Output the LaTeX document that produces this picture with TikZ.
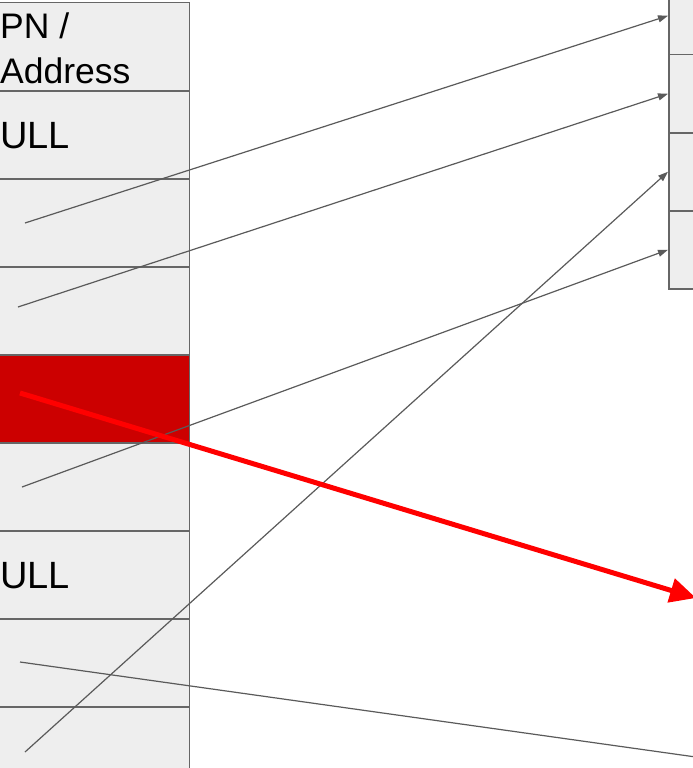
\documentclass[tikz,border=0pt]{standalone}
\usepackage{fontspec}
\setmainfont{Liberation Sans}
\usetikzlibrary{arrows.meta}

\definecolor{cellgray}{HTML}{EEEEEE}
\definecolor{edgegray}{HTML}{666666}
\definecolor{linkgray}{HTML}{5A5A5A}
\definecolor{hotcell}{HTML}{CC0000}
\definecolor{ptrred}{HTML}{FF0000}

\tikzset{
  cell/.style={draw=edgegray, line width=1.5pt, fill=cellgray, rectangle, inner sep=0pt},
  lcell/.style={cell, minimum width=260pt, minimum height=88pt, anchor=north east},
  rcell/.style={cell, minimum width=100pt, minimum height=78pt, anchor=north west},
  lbl/.style={inner sep=0pt, anchor=base west, font=\fontsize{35.5}{40}\selectfont, text=black},
  biglbl/.style={lbl, font=\fontsize{38}{44}\selectfont},
  link/.style={draw=linkgray, line width=1.2pt, -{Triangle[length=10pt,width=7pt]}},
  plainlink/.style={draw=linkgray, line width=1.2pt},
  ptr/.style={draw=ptrred, line width=5pt, -{Triangle[length=26pt,width=24pt]}}
}

\begin{document}
\begin{tikzpicture}[x=1pt,y=-1pt]
\useasboundingbox (0,0) rectangle (693,768);
\clip (0,0) rectangle (693,768);

% page table column
\foreach \i/\f in {1/cellgray,2/cellgray,3/cellgray,4/cellgray,5/hotcell,6/cellgray,7/cellgray,8/cellgray,9/cellgray}
  \node[lcell, fill=\f] (l\i) at (190, {2+88*(\i-1)}) {};

% physical frames column
\foreach \i in {1,...,4}
  \node[rcell] (r\i) at (668, {-24+78*(\i-1)}) {};

% entry texts
\node[lbl] (t1) at (0,38) {PN /};
\node[lbl] (t2) at (0,83) {Address};
\node[biglbl] (t3) at (0,148) {ULL};
\node[biglbl] (t4) at (0,588) {ULL};

% pointer tails inside the entries
\coordinate (p3) at (25,223);
\coordinate (p4) at (18,307);
\coordinate (p5) at (20,393);
\coordinate (p6) at (22,487);
\coordinate (p8) at (20,662);
\coordinate (p9) at (25,752);
\coordinate (q5) at (696,598);
\coordinate (q8) at (710,759);

% mappings
\draw[link] (p3) -- (r1.west);
\draw[link] (p4) -- (r2.west);
\draw[link] (p9) -- (r3.west);
\draw[link] (p6) -- (r4.west);
\draw[plainlink] (p8) -- (q8);
\draw[ptr] (p5) -- (q5);
\end{tikzpicture}
\end{document}
